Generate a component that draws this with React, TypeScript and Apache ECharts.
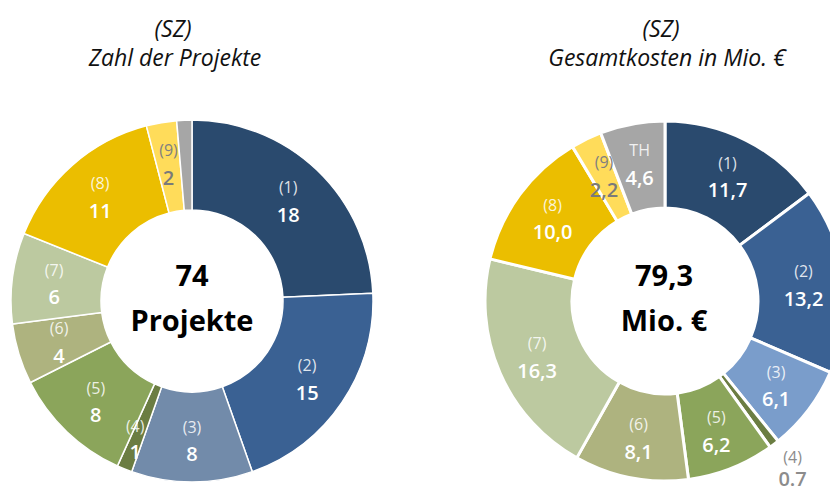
import React, { useEffect, useRef } from "react";
import * as echarts from "echarts";

const categories = ["(1)", "(2)", "(3)", "(4)", "(5)", "(6)", "(7)", "(8)", "(9)", "TH"];
const projectCounts = [18, 15, 8, 1, 8, 4, 6, 11, 2, 1];
const projectLabels = ["18", "15", "8", "1", "8", "4", "6", "11", "2", ""];
const costValues = [11.7, 13.2, 6.1, 0.7, 6.2, 8.1, 16.3, 10.0, 2.2, 4.6];
const costLabels = ["11,7", "13,2", "6,1", "0.7", "6,2", "8,1", "16,3", "10,0", "2,2", "4,6"];
const leftColors = ["#2A4A6E", "#3A6193", "#728BAA", "#6B7D42", "#8BA55B", "#AEB37F", "#BCC9A0", "#EBBE00", "#FFDC5A", "#A6A6A6"];
const rightColors = ["#2A4A6E", "#3A6193", "#7A9DCB", "#6B7D42", "#8BA55B", "#AEB37F", "#BCC9A0", "#EBBE00", "#FFDC5A", "#A6A6A6"];
const titlesLeft = ["(SZ)", "Zahl der Projekte"];
const titlesRight = ["(SZ)", "Gesamtkosten in Mio. €"];
const centerLeft = ["74", "Projekte"];
const centerRight = ["79,3", "Mio. €"];

const FONT = "Open Sans";

function labelFor(name: string, value: string, color1: string, color2: string, position: string, lh = 27) {
  return {
    show: true,
    position,
    fontFamily: FONT,
    fontSize: 20,
    lineHeight: lh,
    color: color2,
    formatter: `{a|${name}}\n{b|${value}}`,
    rich: {
      a: { fontFamily: FONT, fontSize: 16, fontWeight: 400, color: color1, lineHeight: lh },
      b: { fontFamily: FONT, fontSize: 20, fontWeight: 600, color: color2, lineHeight: lh },
    },
  };
}

function buildData(values: number[], labels: string[], colors: string[], side: "L" | "R") {
  return values.map((v, i) => {
    const name = categories[i];
    const item: any = {
      name,
      value: v,
      itemStyle: { color: colors[i] },
      label: labelFor(name, labels[i], "rgba(255,255,255,0.85)", "#FFFFFF", "inside"),
    };
    if (name === "(9)") {
      item.label = labelFor(name, labels[i], "#808080", "#7A7A7A", "inside");
    }
    if (side === "L" && name === "TH") {
      item.label = { show: false };
    }
    if (side === "L" && name === "(4)") {
      item.label = labelFor(name, labels[i], "rgba(255,255,255,0.85)", "#FFFFFF", "inside", 25);
      item.label.offset = [-5, 9];
    }
    if (side === "R" && name === "(4)") {
      item.label = labelFor(name, labels[i], "#8C8C8C", "#8C8C8C", "inside", 22);
      item.label.offset = [43, 56];
    }
    return item;
  });
}

export default function App() {
  const ref = useRef<HTMLDivElement>(null);
  useEffect(() => {
    if (!ref.current) return;
    const chart = echarts.init(ref.current, undefined, { renderer: "svg" });
    const titleStyle = { fontFamily: FONT, fontSize: 23, fontStyle: "italic", fill: "#111111", textAlign: "center", textVerticalAlign: "middle" };
    const centerStyle = { fontFamily: FONT, fontSize: 29, fontWeight: 700, fill: "#000000", textAlign: "center", textVerticalAlign: "middle" };
    chart.setOption({
      animation: false,
      backgroundColor: "#FFFFFF",
      graphic: [
        { type: "text", x: 173, y: 28, style: { ...titleStyle, text: titlesLeft[0] } },
        { type: "text", x: 175, y: 57, style: { ...titleStyle, text: titlesLeft[1] } },
        { type: "text", x: 661, y: 28, style: { ...titleStyle, text: titlesRight[0] } },
        { type: "text", x: 667, y: 57, style: { ...titleStyle, text: titlesRight[1] } },
        { type: "text", x: 192, y: 274, style: { ...centerStyle, text: centerLeft[0] } },
        { type: "text", x: 192, y: 319, style: { ...centerStyle, text: centerLeft[1] } },
        { type: "text", x: 664, y: 274, style: { ...centerStyle, text: centerRight[0] } },
        { type: "text", x: 664, y: 319, style: { ...centerStyle, text: centerRight[1] } },
      ],
      series: [
        {
          type: "pie",
          center: [192, 301],
          radius: [91, 181],
          startAngle: 90,
          clockwise: true,
          avoidLabelOverlap: false,
          label: { fontSize: 20, fontFamily: FONT },
          itemStyle: { borderColor: "#FFFFFF", borderWidth: 1.5 },
          emphasis: { disabled: true },
          data: buildData(projectCounts, projectLabels, leftColors, "L"),
        },
        {
          type: "pie",
          center: [665, 301],
          radius: [93, 180],
          startAngle: 90,
          clockwise: true,
          avoidLabelOverlap: false,
          label: { fontSize: 20, fontFamily: FONT },
          itemStyle: { borderColor: "#FFFFFF", borderWidth: 3 },
          emphasis: { disabled: true },
          data: buildData(costValues, costLabels, rightColors, "R"),
        },
      ],
    });
    return () => chart.dispose();
  }, []);
  return <div ref={ref} style={{ position: "absolute", left: 0, top: 0, width: 830, height: 493 }} />;
}
